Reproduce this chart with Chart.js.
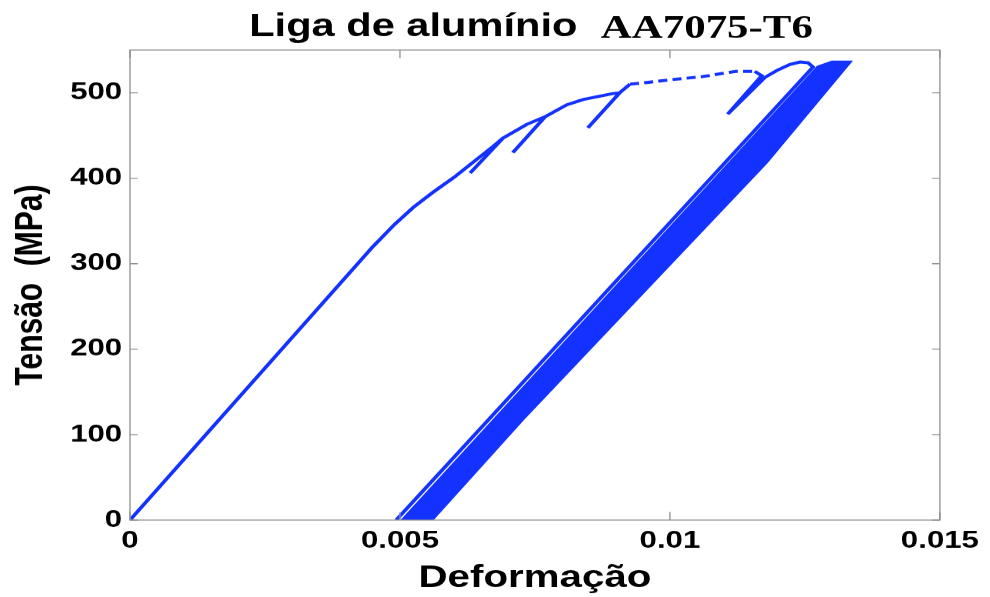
<!DOCTYPE html>
<html>
<head>
<meta charset="utf-8">
<script src="https://cdn.jsdelivr.net/npm/chart.js@4.4.1/dist/chart.umd.min.js"></script>
<style>
  html, body { margin: 0; padding: 0; background: #fff; overflow: hidden; }
  /* the original figure is stretched sideways, so draw narrow and widen */
  #stretch { width: 762px; height: 597px; transform: scaleX(1.2992); transform-origin: 0 0; }
</style>
</head>
<body>
<div id="stretch"><canvas id="chart"></canvas></div>
<script>
const titleMain = 'Liga de alumínio';
const titleAlloy = 'AA7075-T6';
const xTitle = 'Deformação';
const yTitle = 'Tensão  (MPa)';

const xTickValues = [0, 0.005, 0.01, 0.015];
const xTickLabels = ['0', '0.005', '0.01', '0.015'];
const yTickValues = [0, 100, 200, 300, 400, 500];

// loading curve with the partial unloadings, then the first full unload
const strainLoading = [0, 0.00450, 0.00490, 0.00525, 0.00560, 0.00600, 0.00630, 0.00672, 0.00691, 0.00630, 0.00691,
  0.00735, 0.00769, 0.00709, 0.00769, 0.00809, 0.00839, 0.00894, 0.00907, 0.00848, 0.00907,
  0.00926, 0.00957, 0.00998, 0.01061, 0.01122, 0.01157, 0.01170, 0.01107, 0.01176, 0.01198,
  0.01222, 0.01241, 0.01256, 0.01265, 0.00493];
const stressLoading = [0, 320, 346, 366, 383, 401, 416, 437, 447, 406, 447,
  463, 472, 430, 472, 486, 492, 499, 500, 459, 500,
  510, 512, 515, 519, 525, 525, 520, 475, 518, 526,
  533, 536, 535, 530, 0];

// outline of the band of repeated unload/reload cycles
const strainBand = [0.00502, 0.01273, 0.01300, 0.01337, 0.01180, 0.00728, 0.00561];
const stressBand = [0, 531, 537, 537, 418, 117, 0];

const blue = '#1432ff';
const sansBold = (size) => ({ family: '"Liberation Sans", Arial, Helvetica, sans-serif', size: size, weight: 'bold' });

const toPoints = (xs, ys) => xs.map((x, i) => ({ x: x, y: ys[i] }));

const DASH_FROM = 21, DASH_TO = 26;

const frameAndTitle = {
  id: 'frameAndTitle',
  afterDraw(chart) {
    const { ctx, chartArea: a, scales } = chart;
    ctx.save();
    ctx.strokeStyle = '#8f8f8f';
    ctx.lineWidth = 1;
    ctx.strokeRect(a.left, a.top, a.right - a.left, a.bottom - a.top);
    ctx.beginPath();
    xTickValues.forEach(v => {
      const px = scales.x.getPixelForValue(v);
      ctx.moveTo(px, a.bottom); ctx.lineTo(px, a.bottom - 8);
      ctx.moveTo(px, a.top); ctx.lineTo(px, a.top + 8);
    });
    yTickValues.forEach(v => {
      const py = scales.y.getPixelForValue(v);
      ctx.moveTo(a.left, py); ctx.lineTo(a.left + 6, py);
      ctx.moveTo(a.right, py); ctx.lineTo(a.right - 6, py);
    });
    ctx.stroke();

    ctx.fillStyle = '#000';
    ctx.textBaseline = 'alphabetic';
    ctx.textAlign = 'left';
    const fontMain = 'bold 32px "Liberation Sans", Arial, sans-serif';
    const fontAlloy = 'bold 33px "Liberation Serif", "Times New Roman", serif';
    ctx.font = fontMain;
    const w1 = ctx.measureText(titleMain).width;
    ctx.font = fontAlloy;
    const w2 = ctx.measureText(titleAlloy).width;
    const gap = 18;
    const x0 = (a.left + a.right) / 2 - (w1 + gap + w2) / 2 - 3;
    ctx.font = fontMain;
    ctx.fillText(titleMain, x0, 36);
    ctx.font = fontAlloy;
    ctx.fillText(titleAlloy, x0 + w1 + gap, 38);
    ctx.restore();
  }
};

new Chart(document.getElementById('chart'), {
  type: 'line',
  data: {
    datasets: [
      {
        data: toPoints(strainLoading, stressLoading),
        borderColor: blue,
        borderWidth: 3,
        pointRadius: 0,
        tension: 0,
        fill: false,
        segment: {
          borderDash: ctx => (ctx.p0DataIndex >= DASH_FROM && ctx.p1DataIndex <= DASH_TO) ? [7, 4] : undefined
        }
      },
      {
        data: toPoints(strainBand, stressBand),
        borderColor: blue,
        backgroundColor: blue,
        borderWidth: 1,
        pointRadius: 0,
        tension: 0,
        fill: 'shape'
      }
    ]
  },
  options: {
    responsive: true,
    maintainAspectRatio: false,
    devicePixelRatio: 1.3,
    animation: false,
    layout: { padding: { top: 50, right: 39, left: 0, bottom: 0 } },
    plugins: {
      legend: { display: false },
      tooltip: { enabled: false },
      title: { display: false }
    },
    scales: {
      x: {
        type: 'linear',
        min: 0,
        max: 0.015,
        afterBuildTicks: s => { s.ticks = xTickValues.map(v => ({ value: v })); },
        afterFit: s => { s.height = 77; },
        grid: { display: false, drawTicks: false },
        border: { display: false },
        ticks: {
          color: '#000',
          font: sansBold(24),
          padding: 7,
          maxRotation: 0,
          autoSkip: false,
          callback: (v, i) => xTickLabels[i]
        },
        title: { display: true, text: xTitle, color: '#000', font: sansBold(31), padding: { top: 0, bottom: 0 } }
      },
      y: {
        type: 'linear',
        min: 0,
        max: 550,
        afterBuildTicks: s => { s.ticks = yTickValues.map(v => ({ value: v })); },
        afterFit: s => { s.width = 100; },
        grid: { display: false, drawTicks: false },
        border: { display: false },
        ticks: {
          color: '#000',
          font: sansBold(24),
          padding: 6,
          callback: v => String(v)
        },
        title: { display: true, text: yTitle, color: '#000', font: sansBold(30), padding: { top: 6, bottom: 0 } }
      }
    }
  },
  plugins: [frameAndTitle]
});
</script>
</body>
</html>
